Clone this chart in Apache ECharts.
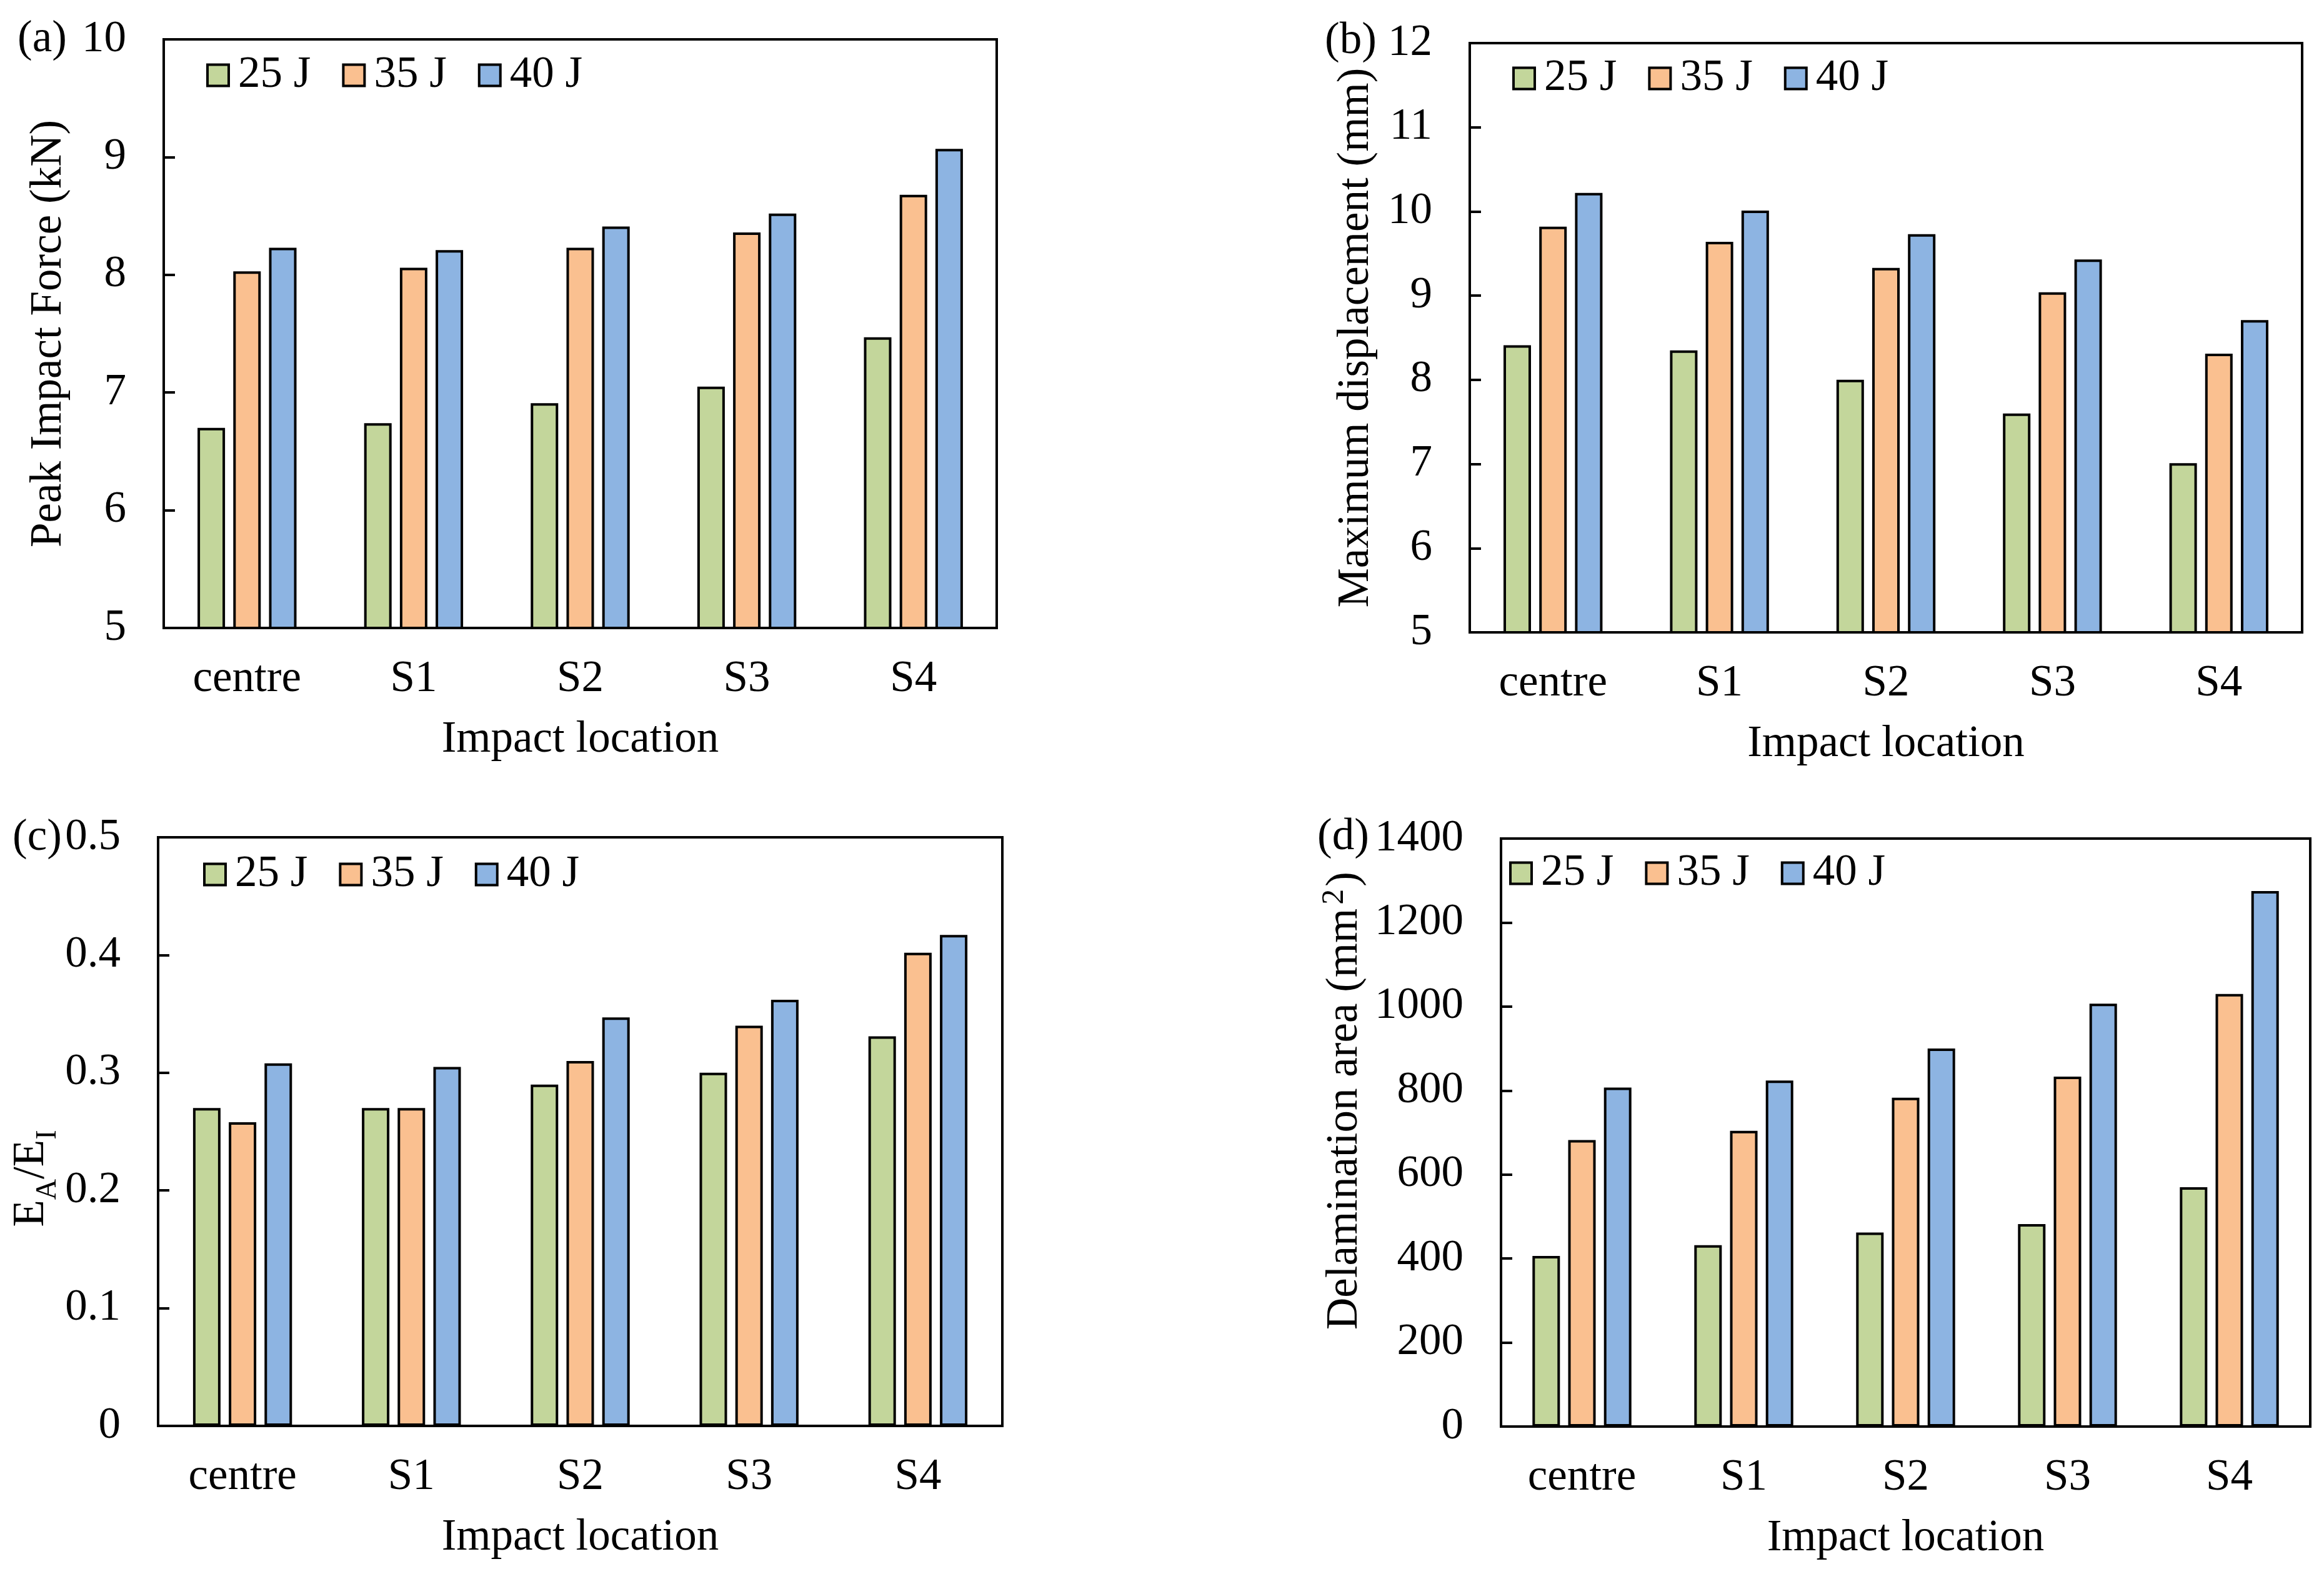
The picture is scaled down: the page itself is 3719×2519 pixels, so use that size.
<!DOCTYPE html>
<html>
<head>
<meta charset="utf-8">
<script src="https://cdn.jsdelivr.net/npm/echarts@6/dist/echarts.min.js"></script>
<style>
html,body{margin:0;padding:0;background:#fff;}
#chart{width:3719px;height:2519px;}
</style>
</head>
<body>
<div id="chart"></div>
<script>
// ---- data ----
const categories = ['centre', 'S1', 'S2', 'S3', 'S4'];
const seriesNames = ['25 J', '35 J', '40 J'];

const forceJ25 = [6.70, 6.74, 6.91, 7.05, 7.47];
const forceJ35 = [8.03, 8.06, 8.23, 8.36, 8.68];
const forceJ40 = [8.23, 8.21, 8.41, 8.52, 9.07];

const dispJ25 = [8.41, 8.35, 8.00, 7.60, 7.01];
const dispJ35 = [9.82, 9.64, 9.33, 9.04, 8.31];
const dispJ40 = [10.22, 10.01, 9.73, 9.43, 8.71];

const ratioJ25 = [0.270, 0.270, 0.290, 0.300, 0.331];
const ratioJ35 = [0.258, 0.270, 0.310, 0.340, 0.402];
const ratioJ40 = [0.308, 0.305, 0.347, 0.362, 0.417];

const areaJ25 = [406, 432, 462, 482, 570];
const areaJ35 = [682, 704, 783, 833, 1030];
const areaJ40 = [807, 824, 900, 1007, 1275];

// ---- styling ----
const FONT = '"Liberation Serif", "Times New Roman", serif';
const FS = 71;
const colors = ['#C3D69B', '#FAC090', '#8DB4E2'];

const richStyles = {
  m:{fontFamily:FONT, fontSize:FS, color:'#000'},
  s:{fontFamily:FONT, fontSize:46, color:'#000', verticalAlign:'bottom', padding:[0,0,-14,0]},
  p:{fontFamily:FONT, fontSize:50, color:'#000', verticalAlign:'top', padding:[-6,4,0,6]},
  g:{fontFamily:FONT, fontSize:FS, width:150, color:'transparent'}
};

const panels = [
  {grid:{left:262, top:63, width:1333, height:942}, y:{min:5, max:10, interval:1}, name:'Peak Impact Force (kN)', nameGap:148, namePad:[0,0,0,0],
   data:[forceJ25, forceJ35, forceJ40], legend:{left:330, top:85}, label:{text:'(a)', left:28, top:28}},
  {grid:{left:2352, top:69, width:1332, height:943}, y:{min:5, max:12, interval:1}, name:'Maximum displacement (mm)', nameGap:146, namePad:[0,0,0,0],
   data:[dispJ25, dispJ35, dispJ40], legend:{left:2420, top:90}, label:{text:'(b)', left:2120, top:31}},
  {grid:{left:253, top:1340, width:1351, height:942}, y:{min:0, max:0.5, interval:0.1}, name:'{m|E}{s|A}{m|/E}{s|I}{g| }', nameGap:160, namePad:[0,0,0,0],
   data:[ratioJ25, ratioJ35, ratioJ40], legend:{left:325, top:1364}, label:{text:'(c)', left:20, top:1306}},
  {grid:{left:2402, top:1342, width:1295, height:941}, y:{min:0, max:1400, interval:200}, name:'{m|Delamination area (mm}{p|2}{m|)}', nameGap:214, namePad:[0,0,0,102],
   data:[areaJ25, areaJ35, areaJ40], legend:{left:2415, top:1362}, label:{text:'(d)', left:2108, top:1305}}
];

const option = {
  backgroundColor: '#fff',
  animation: false,
  textStyle: {fontFamily: FONT, color: '#000'},
  grid: [], xAxis: [], yAxis: [], series: [], legend: [], graphic: []
};

panels.forEach((p, i) => {
  option.grid.push(Object.assign({show:true, borderColor:'#000', borderWidth:4, backgroundColor:'transparent'}, p.grid));
  option.xAxis.push({
    type:'category', gridIndex:i, data:categories,
    axisLine:{lineStyle:{color:'#000', width:4}},
    axisTick:{show:false},
    axisLabel:{fontFamily:FONT, fontSize:FS, color:'#000', margin:47},
    name:'Impact location', nameLocation:'middle', nameGap:144,
    nameTextStyle:{fontFamily:FONT, fontSize:FS, color:'#000'}
  });
  option.yAxis.push({
    type:'value', gridIndex:i, min:p.y.min, max:p.y.max, interval:p.y.interval,
    axisLine:{show:true, lineStyle:{color:'#000', width:4}},
    axisTick:{show:true, inside:true, length:18, lineStyle:{color:'#000', width:4}},
    splitLine:{show:false},
    axisLabel:{fontFamily:FONT, fontSize:FS, color:'#000', margin:60, formatter:(v) => String(+v.toFixed(6))},
    name:p.name, nameLocation:'middle', nameRotate:90, nameGap:p.nameGap,
    nameTextStyle:{fontFamily:FONT, fontSize:FS, color:'#000', padding:p.namePad, rich:richStyles}
  });
  seriesNames.forEach((n, k) => {
    option.series.push({
      type:'bar', name:n, xAxisIndex:i, yAxisIndex:i, data:p.data[k],
      barWidth:44, barGap:'30%',
      itemStyle:{color:colors[k], borderColor:'#000', borderWidth:4}
    });
  });
  option.legend.push({
    data:seriesNames, left:p.legend.left, top:p.legend.top, padding:0,
    orient:'horizontal', itemWidth:34, itemHeight:34, itemGap:50, icon:'rect',
    itemStyle:{borderColor:'#000', borderWidth:4},
    textStyle:{fontFamily:FONT, fontSize:FS, color:'#000', padding:[0,0,0,10]},
    selectedMode:false
  });
  option.graphic.push({
    type:'text', left:p.label.left, top:p.label.top,
    style:{text:p.label.text, font:FS + 'px ' + FONT, fill:'#000'}
  });
});

const chart = echarts.init(document.getElementById('chart'), null, {renderer:'canvas'});
chart.setOption(option);
</script>
</body>
</html>
